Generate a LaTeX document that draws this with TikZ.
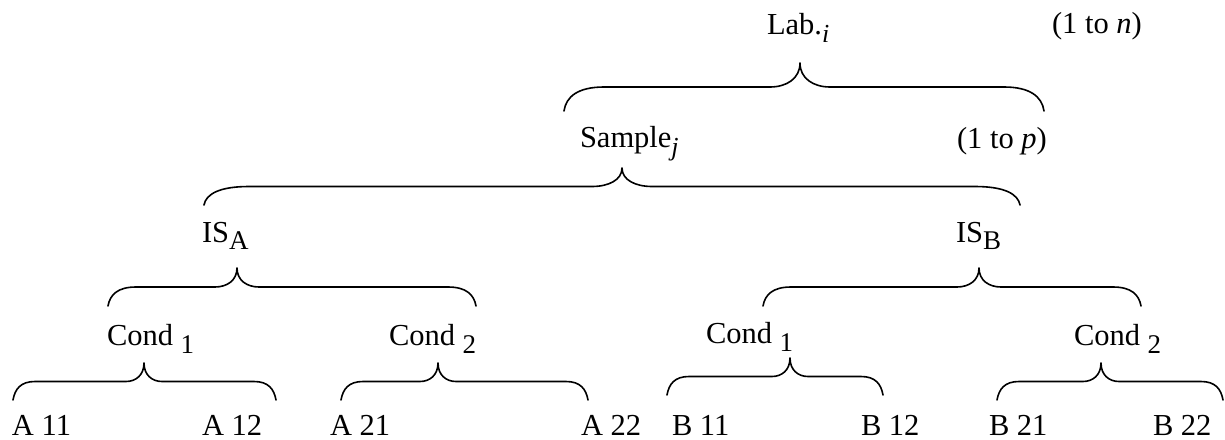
\documentclass[tikz,border=0pt]{standalone}
\usepackage{fontspec}
\setmainfont{Liberation Serif}
\newcommand\lowtxt[3]{\raisebox{-#2pt}{\fontsize{#1}{#1}\selectfont #3}}
% brace: #1 xl, #2 xtip, #3 xr, #4 ytip, #5 half height, #6 end curve width, #7 tip curve width
\newcommand\brc[7]{%
  \draw[bracestyle] (#1,{#4+2*#5}) .. controls ({#1+2},{#4+1.4*#5}) and ({#1+0.35*#6},{#4+#5}) .. ({#1+#6},{#4+#5})
    -- ({#2-#7},{#4+#5}) .. controls ({#2-0.45*#7},{#4+#5}) and (#2,{#4+0.65*#5}) .. (#2,#4)
    .. controls (#2,{#4+0.65*#5}) and ({#2+0.45*#7},{#4+#5}) .. ({#2+#7},{#4+#5})
    -- ({#3-#6},{#4+#5}) .. controls ({#3-0.35*#6},{#4+#5}) and ({#3-2},{#4+1.4*#5}) .. (#3,{#4+2*#5});}
\begin{document}
\begin{tikzpicture}[x=1pt,y=-1pt,
  lbl/.style={inner sep=0pt,outer sep=0pt,anchor=base west,font=\fontsize{30.5}{36}\selectfont},
  bracestyle/.style={line width=1.6pt,line join=round,line cap=round,black}]
\useasboundingbox (0,0) rectangle (1225,439);
% labels
\node[lbl] (lab) at (767,34) {Lab.\lowtxt{26}{8}{\textit{i}}};
\node[lbl] (rangen) at (1052,33) {(1 to \textit{n})};
\node[lbl] (sample) at (580,147) {Sample\lowtxt{26}{8}{\textit{j}}};
\node[lbl] (rangep) at (957,148) {(1 to \textit{p})};
\node[lbl] (isa) at (202,242) {IS\lowtxt{27}{7}{A}};
\node[lbl] (isb) at (956,242) {IS\lowtxt{27}{7}{B}};
\node[lbl] (ca1) at (107,345) {Cond \lowtxt{27}{8}{1}};
\node[lbl] (ca2) at (389,345) {Cond \lowtxt{27}{8}{2}};
\node[lbl] (cb1) at (706,343) {Cond \lowtxt{27}{8}{1}};
\node[lbl] (cb2) at (1074,345) {Cond \lowtxt{27}{8}{2}};
\node[lbl] (a11) at (12,435) {A 11};
\node[lbl] (a12) at (202,435) {A 12};
\node[lbl] (a21) at (330,435) {A 21};
\node[lbl] (a22) at (581,435) {A 22};
\node[lbl] (b11) at (672,435) {B 11};
\node[lbl] (b12) at (861,435) {B 12};
\node[lbl] (b21) at (989,435) {B 21};
\node[lbl] (b22) at (1153,435) {B 22};
% braces
\brc{564}{800}{1044}{63}{24}{40}{30}
\brc{204}{622}{1020}{168}{18.5}{45}{30}
\brc{108}{237}{476}{268}{19}{28}{22}
\brc{763}{979}{1141}{268}{19}{28}{22}
\brc{13}{144}{276}{363}{18.5}{22}{18}
\brc{341}{438}{588}{363}{18.5}{22}{18}
\brc{667}{790}{883}{358}{18.5}{22}{18}
\brc{997}{1101}{1223}{363}{18.5}{22}{18}
\end{tikzpicture}
\end{document}
